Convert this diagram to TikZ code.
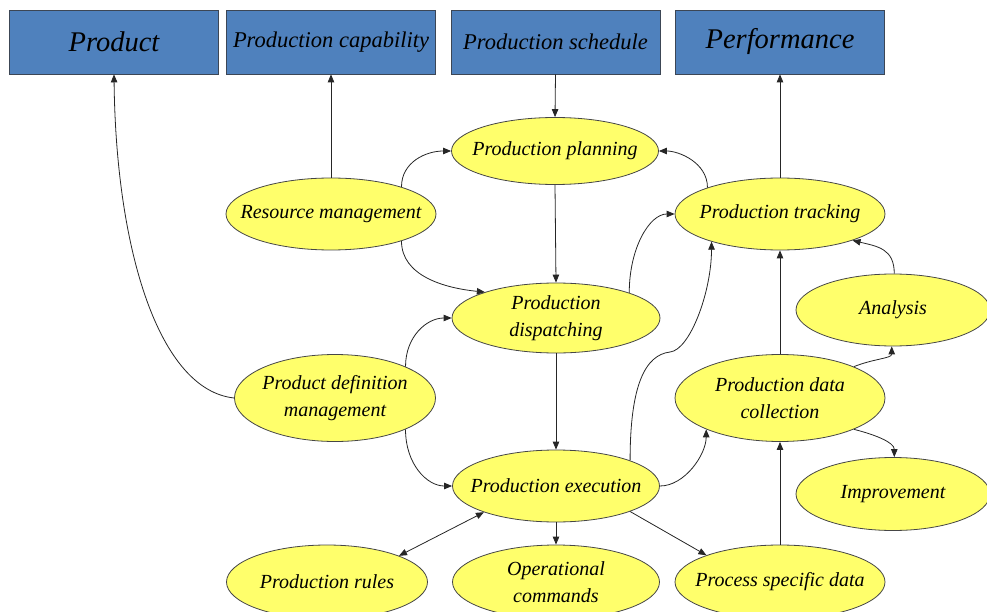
\documentclass[tikz,border=0pt]{standalone}
\usepackage{fontspec}
\setmainfont{Liberation Serif}
\usetikzlibrary{shapes.geometric,arrows.meta}
\definecolor{boxblue}{RGB}{79,129,189}
\definecolor{boxline}{RGB}{60,70,85}
\definecolor{ellyellow}{RGB}{255,255,107}
\definecolor{ellline}{RGB}{70,70,70}
\tikzset{
  topbox/.style={draw=boxline, line width=0.8pt, fill=boxblue, minimum width=209pt, minimum height=64pt, inner sep=0pt, font=\fontsize{22.5}{27}\selectfont\itshape},
  bigtext/.style={font=\fontsize{28.5}{32}\selectfont\itshape},
  ell/.style={ellipse, draw=ellline, line width=0.8pt, fill=ellyellow, inner sep=0pt},
  elltext/.style={inner sep=0pt, align=center, font=\fontsize{20}{27}\selectfont\itshape},
  conn/.style={draw=black!85, line width=0.8pt, -{Triangle[length=8pt,width=6.5pt]}},
  dconn/.style={draw=black!85, line width=0.8pt, {Triangle[length=8pt,width=6.5pt]}-{Triangle[length=8pt,width=6.5pt]}}
}
\begin{document}
\begin{tikzpicture}[x=1pt,y=-1pt]
\useasboundingbox (0,0) rectangle (987,612);
\clip (0,0) rectangle (987,612);
% top boxes
\node[topbox, bigtext] (prod) at (114,42) {Product};
\node[topbox] (cap) at (331,42) {Production capability};
\node[topbox] (sched) at (555.5,42) {Production schedule};
\node[topbox, bigtext] (perf) at (780,42) {Performance};
% ellipses
\node[ell, minimum width=207pt, minimum height=67pt] (pp) at (555,151) {};
\node[elltext] (ppt) at (pp) {Production planning};
\node[ell, minimum width=210pt, minimum height=72pt] (rm) at (331,214) {};
\node[elltext] (rmt) at (rm) {Resource management};
\node[ell, minimum width=208pt, minimum height=70pt] (pd) at (556,318) {};
\node[elltext] (pdt) at (pd) {Production\\dispatching};
\node[ell, minimum width=210pt, minimum height=72pt] (pt) at (780,214) {};
\node[elltext] (ptt) at (pt) {Production tracking};
\node[ell, minimum width=194pt, minimum height=72pt] (an) at (893,310) {};
\node[elltext] (ant) at (an) {Analysis};
\node[ell, minimum width=201pt, minimum height=87pt] (pdm) at (335,398) {};
\node[elltext] (pdmt) at (pdm) {Product definition\\management};
\node[ell, minimum width=210pt, minimum height=87pt] (pdc) at (780,398) {};
\node[elltext] (pdct) at (pdc) {Production data\\collection};
\node[ell, minimum width=207pt, minimum height=72pt] (pe) at (556,486) {};
\node[elltext] (pet) at (pe) {Production execution};
\node[ell, minimum width=194pt, minimum height=73pt] (imp) at (893,494) {};
\node[elltext] (impt) at (imp) {Improvement};
\node[ell, minimum width=201pt, minimum height=74pt] (pr) at (327,582) {};
\node[elltext] (prt) at (pr) {Production rules};
\node[ell, minimum width=207pt, minimum height=74pt] (oc) at (556,582) {};
\node[elltext] (oct) at (oc) {Operational\\commands};
\node[ell, minimum width=210pt, minimum height=74pt] (psd) at (780,582) {};
\node[elltext] (psdt) at (psd) {Process specific data};
% connectors
\draw[conn] (pdm.180) .. controls +(-75,-8) and +(2,176) .. (prod.south);
\draw[conn] (rm.90) -- (cap.south);
\draw[conn] (sched.south) -- (pp.90);
\draw[conn] (rm.21) .. controls +(0,-25) and +(-25,0) .. (pp.180);
\draw[conn] (rm.-21) .. controls +(0,35) and +(-40,-4) .. (pd.160);
\draw[conn] (pp.270) -- (pd.90);
\draw[conn] (pd.19.6) .. controls +(0,-45) and +(-25,0) .. (pt.180);
\draw[conn] (pt.160) .. controls +(0,-25) and +(20,0) .. (pp.0);
\draw[conn] (pt.90) -- (perf.south);
\draw[conn] (pdm.24.6) .. controls +(0,-30) and +(-25,0) .. (pd.180);
\draw[conn] (pdm.-24) .. controls +(0,35) and +(-25,0) .. (pe.180);
\draw[conn] (pd.270) -- (pe.90);
\coordinate (wig) at (670,352);
\draw[conn] (pe.19.6) .. controls +(0,-75) and +(-25,3) .. (wig) .. controls +(20,-2) and +(0,50) .. (pt.202);
\draw[conn] (pe.0) .. controls +(25,0) and +(0,25) .. (pdc.203.7);
\draw[conn] (pe.270) -- (oc.90);
\draw[dconn] (pr.20.6) -- (pe.200);
\draw[conn] (pe.-19.4) -- (psd.160);
\draw[conn] (psd.90) -- (pdc.270);
\draw[conn] (pdc.90) -- (pt.270);
\draw[conn] (an.88) .. controls +(0,-25) and +(25,6) .. (pt.-20);
\draw[conn] (pdc.23.7) .. controls +(20,-8) and +(0,12) .. (an.268);
\draw[conn] (pdc.-23) .. controls +(20,5) and +(0,-15) .. (imp.88);
\end{tikzpicture}
\end{document}
